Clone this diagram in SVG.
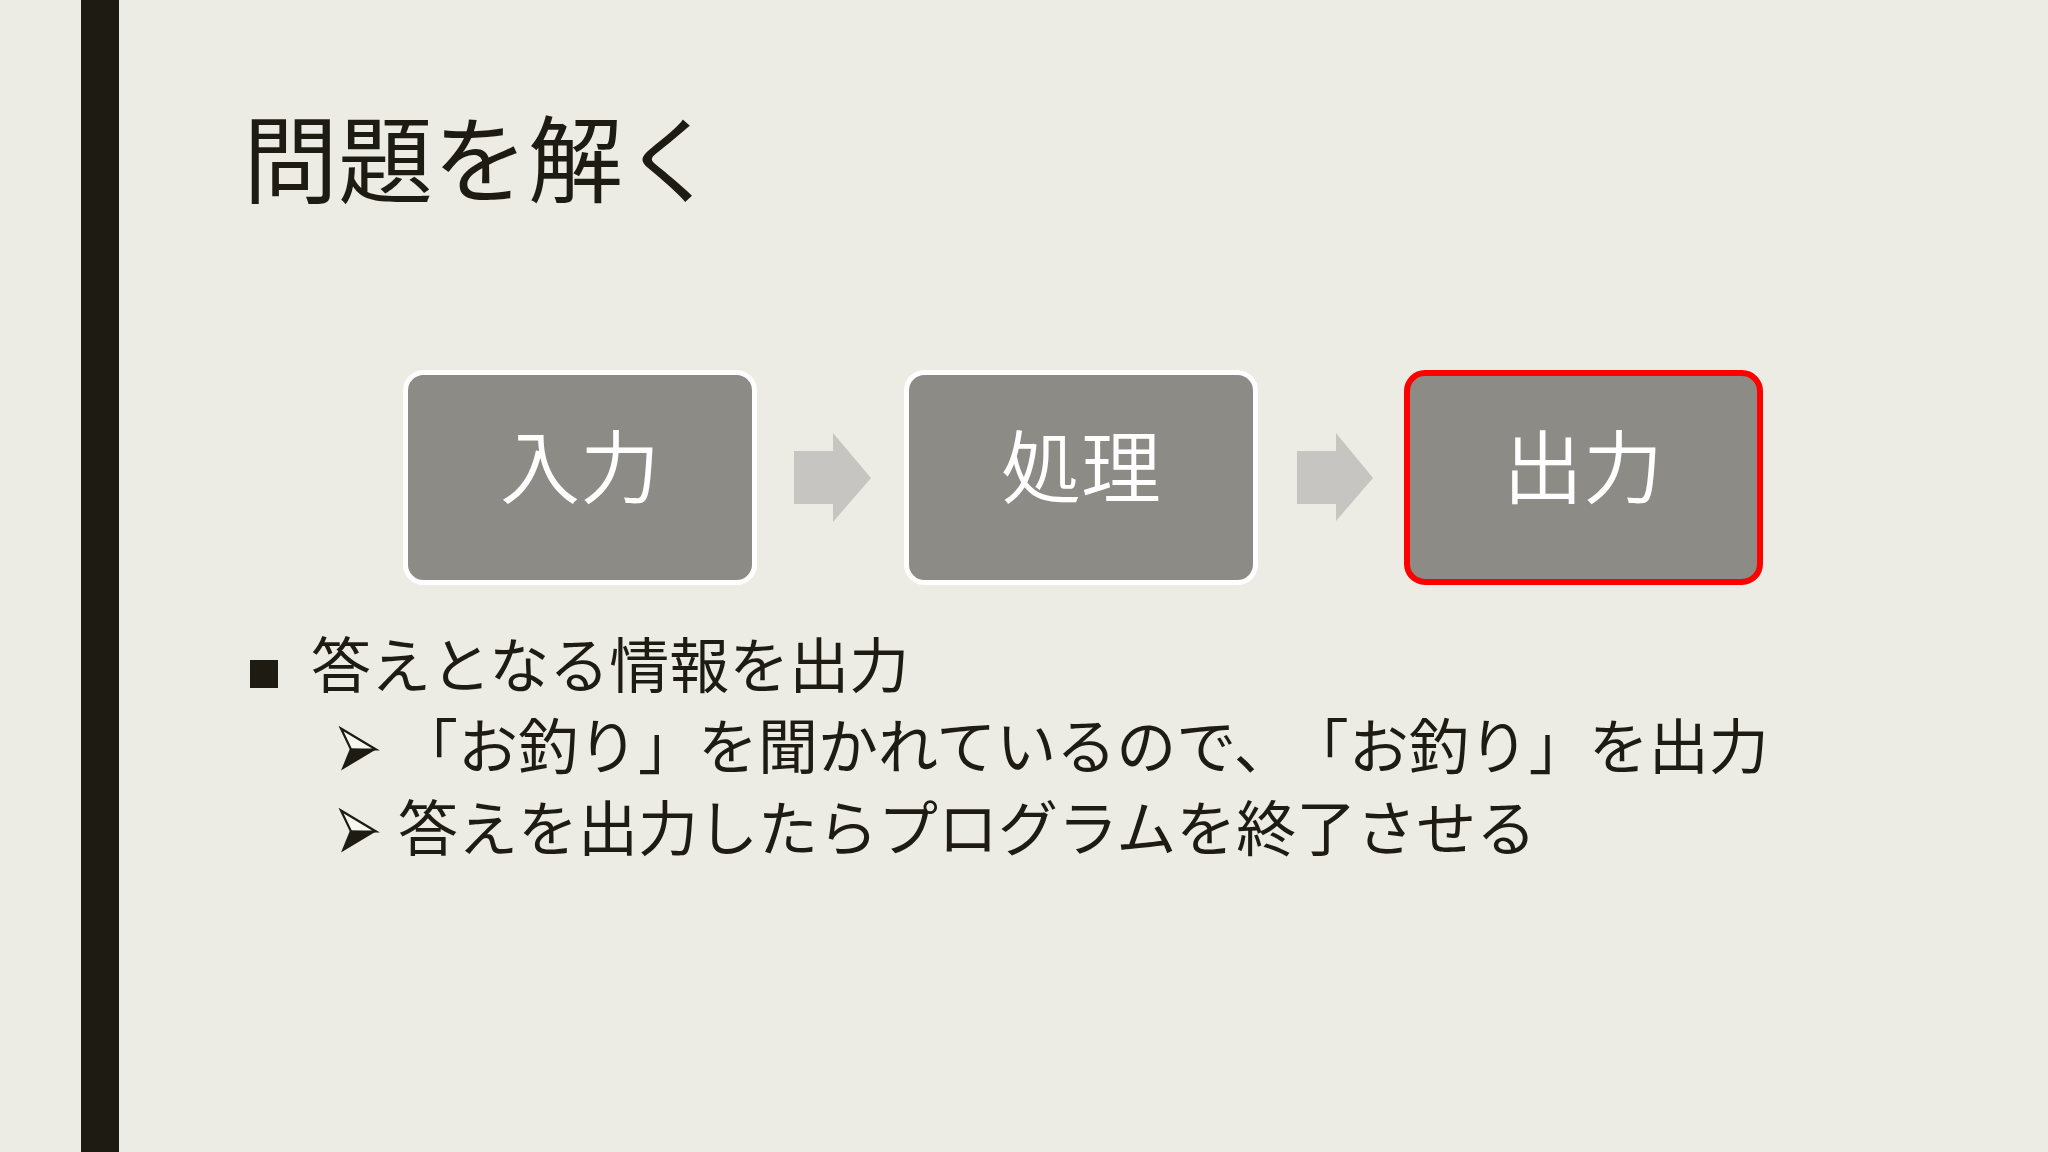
<svg xmlns="http://www.w3.org/2000/svg" width="2048" height="1152" viewBox="0 0 2048 1152">
<style>
.title{font-family:"Noto Sans CJK JP","Noto Sans",sans-serif;font-size:95px;fill:#1e1c12;font-weight:400}
.box{fill:#8c8b86;stroke:#ffffff;stroke-width:5}
.boxr{fill:#8c8b86;stroke:#ff0000;stroke-width:6}
.btxt{font-family:"Noto Sans CJK JP","Noto Sans",sans-serif;font-size:80px;fill:#ffffff;text-anchor:middle;font-weight:350}
.arrow{fill:#c6c5c1}
.body{font-family:"Noto Sans CJK JP","Noto Sans",sans-serif;font-size:60px;fill:#1e1c12;font-weight:400}
</style>
<defs>
<g id="bullet2">
<polygon points="0,0 35,21 10,21" fill="#f7f6f0" stroke="#1e1c12" stroke-width="2.2" stroke-linejoin="miter"/>
<polygon points="9,20 35,21 0,42" fill="#1e1c12"/>
</g>
</defs>
<rect x="0" y="0" width="2048" height="1152" fill="#edece4"/>
<rect x="81" y="0" width="38" height="1152" fill="#1e1c12"/>
<text class="title" x="243" y="196">問題を解く</text>
<g id="connectors">
<polygon class="arrow" points="794,451 833,451 833,433 871,478 833,522 833,504 794,504"/>
<polygon class="arrow" points="1297,451 1336,451 1336,433 1373,478 1336,521 1336,504 1297,504"/>
</g>
<g id="node-input">
<rect class="box" x="405.5" y="372.5" width="349" height="210" rx="18"/>
<text class="btxt" x="580" y="497">入力</text>
</g>
<g id="node-process">
<rect class="box" x="906.5" y="372.5" width="349" height="210" rx="18"/>
<text class="btxt" x="1081" y="497">処理</text>
</g>
<g id="node-output">
<rect class="boxr" x="1407" y="373" width="353" height="209" rx="18"/>
<text class="btxt" x="1583" y="497">出力</text>
</g>
<rect x="250" y="660" width="28" height="28" fill="#1e1c12"/>
<text class="body" x="311" y="688">答えとなる情報を出力</text>
<use href="#bullet2" x="341" y="728.5"/>
<text class="body" x="398" y="769">「お釣り」を聞かれているので、<tspan dx="25">「お釣り」を出力</tspan></text>
<use href="#bullet2" x="341" y="810.5"/>
<text class="body" x="398" y="851">答えを出力したらプログラムを終了させる</text>
</svg>
